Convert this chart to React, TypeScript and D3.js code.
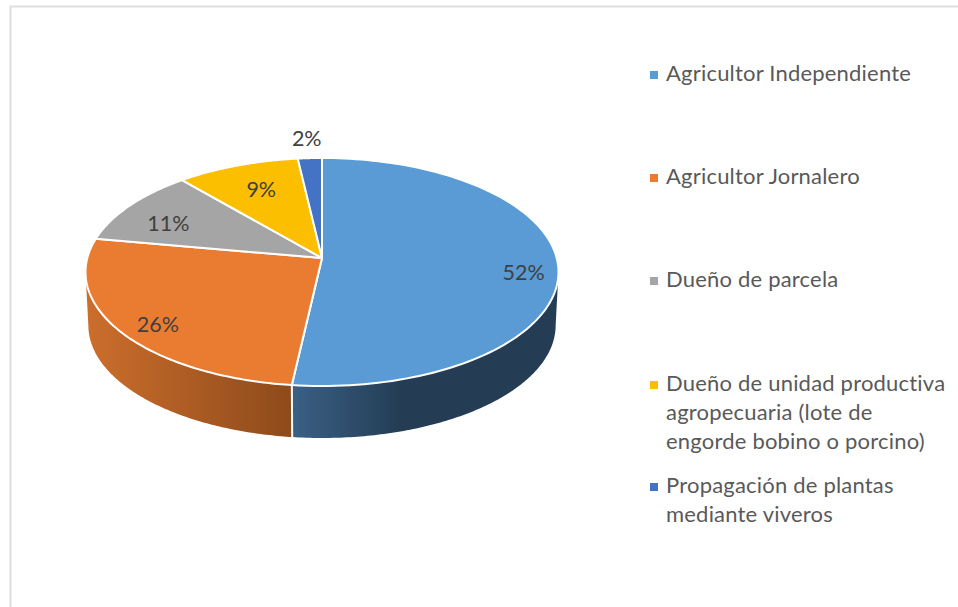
import React from "react";
import * as d3 from "d3";

const categories = [
  "Agricultor Independiente",
  "Agricultor Jornalero",
  "Dueño de parcela",
  "Dueño de unidad productiva agropecuaria (lote de engorde bobino o porcino)",
  "Propagación de plantas mediante viveros",
];
const values = [51.8, 26.0, 10.9, 9.45, 1.85];
const labels = ["52%", "26%", "11%", "9%", "2%"];
const colors = ["#5b9bd5", "#ea7c31", "#a5a5a5", "#fcbf00", "#4472c4"];
const legendLines = [
  ["Agricultor Independiente"],
  ["Agricultor Jornalero"],
  ["Dueño de parcela"],
  ["Dueño de unidad productiva", "agropecuaria (lote de", "engorde bobino o porcino)"],
  ["Propagación de plantas", "mediante viveros"],
];
const legendBaselines = [81, 184, 287, 391, 493];
const labelCenters = [
  { r: 0.855, dx: 0, dy: 9 },
  { r: 0.82, dx: 0, dy: 8 },
  { r: 0.79, dx: 0, dy: 7 },
  { r: 0.72, dx: 2, dy: 0 },
  { r: 1.2, dx: -1, dy: -2 },
];

const W = 958;
const H = 607;
const CX = 322;
const K = 0.1228;
const A = 112.3;
const B = 234.7;

type Level = { y0: number; s: number };
const TOP: Level = { y0: 258, s: 1 };
const BOTTOM: Level = { y0: 311.5, s: 0.988 };

const angle = d3.scaleLinear().domain([0, 100]).range([0, 2 * Math.PI]);

function project(t: number, lvl: Level, r = 1): [number, number] {
  const u = r * Math.sin(t);
  const v = r * Math.cos(t);
  const d = 1 + K * v;
  return [CX + (lvl.s * B * u) / d, lvl.y0 - (lvl.s * A * v) / d];
}

const lineGen = d3.line<[number, number]>();

function rimPoints(a: number, b: number, lvl: Level): [number, number][] {
  return d3.range(0, 121).map((i) => project(a + ((b - a) * i) / 120, lvl));
}

export default function App() {
  const ends = Array.from(d3.cumsum(values));
  const starts = [0, ...ends.slice(0, -1)];
  const apex = project(0, TOP, 0);

  const sideStart = (97 * Math.PI) / 180;
  const sideEnd = (263 * Math.PI) / 180;
  const split = angle(ends[0]);

  const sidePath = (a: number, b: number) =>
    lineGen([...rimPoints(a, b, TOP), ...rimPoints(a, b, BOTTOM).reverse()]) + "Z";

  const splitTop = project(split, TOP);
  const splitBottom = project(split, BOTTOM);

  return (
    <svg
      width={W}
      height={H}
      style={{ position: "fixed", left: 0, top: 0, background: "#fff", fontFamily: "Lato, Carlito, sans-serif" }}
    >
      <defs>
        <linearGradient id="sideBlue" gradientUnits="userSpaceOnUse" x1={292} x2={400} y1={0} y2={0}>
          <stop offset="0" stopColor="#3a6085" />
          <stop offset="1" stopColor="#243d55" />
        </linearGradient>
        <linearGradient id="sideOrange" gradientUnits="userSpaceOnUse" x1={86} x2={292} y1={0} y2={0}>
          <stop offset="0" stopColor="#cc6e2c" />
          <stop offset="1" stopColor="#8d4a1b" />
        </linearGradient>
      </defs>

      <path d="M10.5 607V6.5H958" fill="none" stroke="#dedede" strokeWidth={2} />

      <path d={sidePath(sideStart, split)} fill="url(#sideBlue)" />
      <path d={sidePath(split, sideEnd)} fill="url(#sideOrange)" />
      <path d={lineGen([splitTop, splitBottom]) ?? ""} stroke="#fff" strokeWidth={2} fill="none" />

      {values.map((_, i) => (
        <path
          key={categories[i]}
          d={lineGen([apex, ...rimPoints(angle(starts[i]), angle(ends[i]), TOP)]) + "Z"}
          fill={colors[i]}
          stroke="#fff"
          strokeWidth={2}
          strokeLinejoin="round"
        />
      ))}

      {labels.map((l, i) => {
        const mid = angle((starts[i] + ends[i]) / 2);
        const [x, y] = project(mid, TOP, labelCenters[i].r);
        return (
          <text
            key={l}
            x={x + labelCenters[i].dx}
            y={y + labelCenters[i].dy}
            dy="0.35em"
            textAnchor="middle"
            fontSize={21.5}
            fill="#404040"
          >
            {l}
          </text>
        );
      })}

      {legendLines.map((lines, i) => (
        <g key={categories[i]}>
          <rect x={650} y={legendBaselines[i] - 10} width={8} height={8} fill={colors[i]} />
          {lines.map((t, j) => (
            <text
              key={t}
              x={666}
              y={legendBaselines[i] + j * 29}
              fontSize={22}
              letterSpacing={0.2}
              fill="#595959"
            >
              {t}
            </text>
          ))}
        </g>
      ))}
    </svg>
  );
}
